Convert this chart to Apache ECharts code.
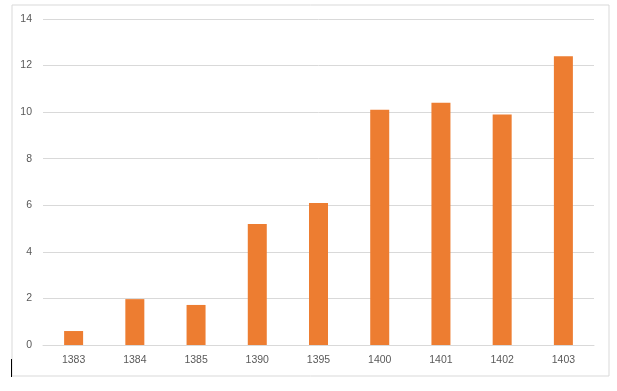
<!DOCTYPE html>
<html>
<head>
<meta charset="utf-8">
<script src="https://cdn.jsdelivr.net/npm/echarts@6/dist/echarts.min.js"></script>
<style>
html,body{margin:0;padding:0;background:#fff;}
#c{width:617px;height:391px;}
</style>
</head>
<body>
<div id="c"></div>
<script>
var categories = ['1383','1384','1385','1390','1395','1400','1401','1402','1403'];
var values = [0.6, 1.97, 1.72, 5.2, 6.1, 10.1, 10.4, 9.9, 12.4];
var yTicks = [0, 2, 4, 6, 8, 10, 12, 14];

var chart = echarts.init(document.getElementById('c'), null, {renderer: 'canvas'});
chart.setOption({
  animation: false,
  backgroundColor: '#ffffff',
  graphic: [
    {type: 'rect', shape: {x: 12, y: 5, width: 597, height: 371}, style: {fill: 'none', stroke: '#d9d9d9', lineWidth: 1}, silent: true},
    {type: 'line', shape: {x1: 11.5, y1: 359, x2: 11.5, y2: 377}, style: {stroke: '#000', lineWidth: 1}, silent: true}
  ],
  grid: {left: 43, right: 23, top: 19, bottom: 46, containLabel: false},
  xAxis: {
    type: 'category',
    data: categories,
    axisTick: {show: false},
    axisLine: {show: true, lineStyle: {color: '#d9d9d9', width: 1}},
    axisLabel: {color: '#595959', fontFamily: 'Liberation Sans', fontSize: 10.5, margin: 10}
  },
  yAxis: {
    type: 'value',
    min: yTicks[0],
    max: yTicks[yTicks.length - 1],
    interval: 2,
    axisLine: {show: false},
    axisTick: {show: false},
    splitLine: {lineStyle: {color: '#d9d9d9', width: 1}},
    axisLabel: {color: '#595959', fontFamily: 'Liberation Sans', fontSize: 10.5, margin: 11}
  },
  series: [{
    type: 'bar',
    data: values,
    barWidth: 19,
    itemStyle: {color: '#ed7d31'}
  }]
});
</script>
</body>
</html>
